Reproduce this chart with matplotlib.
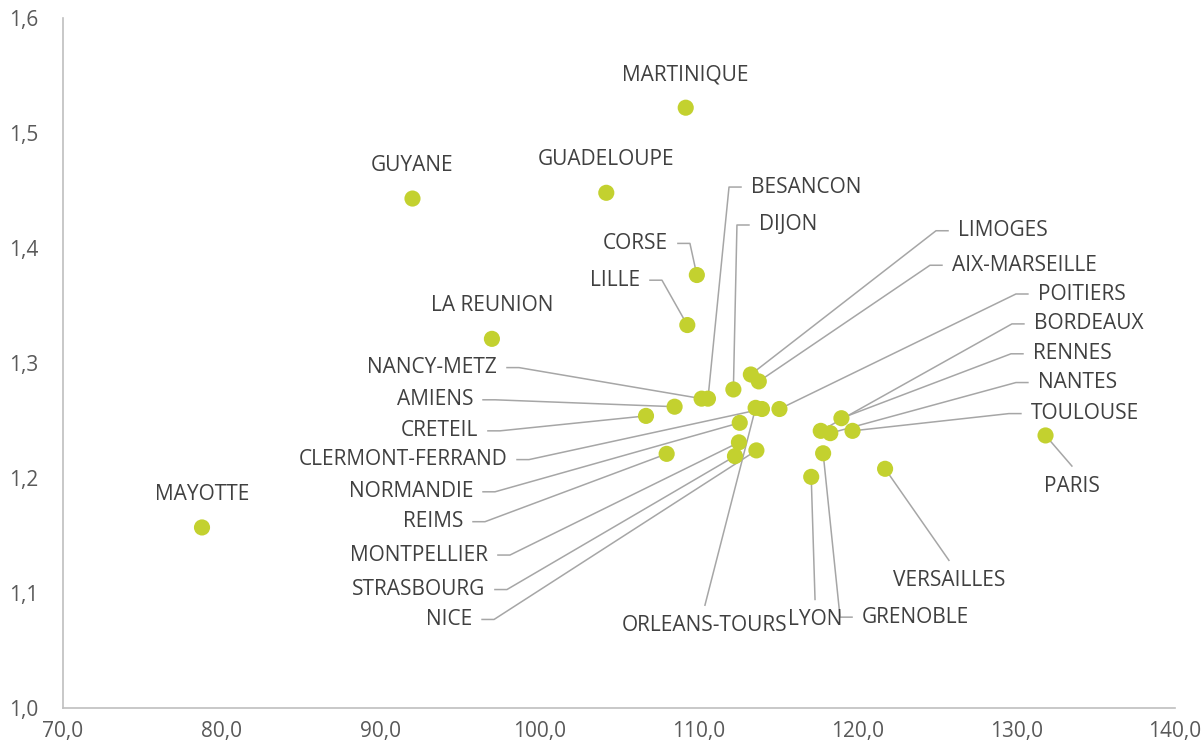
import numpy as np
import matplotlib
matplotlib.use("Agg")
import matplotlib.pyplot as plt
from matplotlib.ticker import FuncFormatter, MultipleLocator

plt.rcParams['font.family'] = ['Open Sans', 'DejaVu Sans']

# academies : indice x / indice y
villes = ['MAYOTTE', 'GUYANE', 'LA REUNION', 'GUADELOUPE', 'MARTINIQUE',
          'CORSE', 'LILLE', 'NANCY-METZ', 'BESANCON', 'AMIENS', 'CRETEIL',
          'DIJON', 'LIMOGES', 'AIX-MARSEILLE', 'ORLEANS-TOURS',
          'CLERMONT-FERRAND', 'POITIERS', 'NORMANDIE', 'REIMS', 'MONTPELLIER',
          'STRASBOURG', 'NICE', 'BORDEAUX', 'NANTES', 'RENNES', 'TOULOUSE',
          'PARIS', 'GRENOBLE', 'LYON', 'VERSAILLES']
x_vals = [78.75, 92.0, 97.0, 104.2, 109.2,
          109.9, 109.3, 110.2, 110.6, 108.5, 106.7,
          112.2, 113.3, 113.8, 113.6,
          114.0, 115.1, 112.6, 108.0, 112.55,
          112.3, 113.65, 117.7, 118.3, 119.0, 119.7,
          131.85, 117.85, 117.1, 121.75]
y_vals = [1.157, 1.443, 1.321, 1.448, 1.522,
          1.3765, 1.333, 1.269, 1.269, 1.262, 1.254,
          1.277, 1.290, 1.284, 1.261,
          1.260, 1.260, 1.248, 1.221, 1.231,
          1.219, 1.224, 1.241, 1.239, 1.252, 1.241,
          1.237, 1.2215, 1.201, 1.208]

# placement des etiquettes : (cote, x, y) ; 'above' = juste au-dessus du point
etiquettes = [('above', None, None), ('above', None, None), ('above', None, None),
              ('above', None, None), ('above', None, None),
              ('left', 108.08, 1.404), ('left', 106.32, 1.372),
              ('left', 97.32, 1.296), ('right', 113.31, 1.453),
              ('left', 95.81, 1.268), ('left', 96.12, 1.241),
              ('right', 113.81, 1.420), ('right', 126.34, 1.415),
              ('right', 125.96, 1.385), ('below', 110.41, 1.072),
              ('left', 97.95, 1.216), ('right', 131.37, 1.360),
              ('left', 95.81, 1.188), ('left', 95.18, 1.162),
              ('left', 96.75, 1.133), ('left', 96.56, 1.103),
              ('left', 95.75, 1.077), ('right', 131.12, 1.334),
              ('right', 131.37, 1.283), ('right', 131.06, 1.308),
              ('right', 130.93, 1.256), ('below', 133.51, 1.193),
              ('right', 120.30, 1.079), ('below', 117.34, 1.077),
              ('below', 125.77, 1.111)]

fig = plt.figure(figsize=(12.04, 7.49), dpi=100)
ax = fig.add_axes([63 / 1204, 41 / 749, 1112 / 1204, 690 / 749])
ax.set_xlim(70, 140)
ax.set_ylim(1.0, 1.6)

# taille d'un pixel en unites de donnees
px_x = 70 / 1112.0
px_y = 0.6 / 690.0

col_ligne = '#a6a6a6'
col_texte = '#404040'
fs = 15

for v, x, y, (cote, lx, ly) in zip(villes, x_vals, y_vals, etiquettes):
    if cote == 'above':
        ax.annotate(v, (x, y), xytext=(0, 33), textcoords='offset pixels',
                    ha='center', va='center', fontsize=fs, color=col_texte)
        continue
    if cote == 'left':
        ax.text(lx, ly, v, ha='right', va='center', fontsize=fs, color=col_texte)
        sx, ex = lx + 10 * px_x, lx + 22 * px_x
        ax.plot([sx, ex, x], [ly, ly, y], color=col_ligne, lw=1.1, zorder=1)
    elif cote == 'right':
        ax.text(lx, ly, v, ha='left', va='center', fontsize=fs, color=col_texte)
        sx, ex = lx - 10 * px_x, lx - 22 * px_x
        ax.plot([sx, ex, x], [ly, ly, y], color=col_ligne, lw=1.1, zorder=1)
    else:
        ax.text(lx, ly, v, ha='center', va='center', fontsize=fs, color=col_texte)
        ax.plot([lx, x], [ly + 20 * px_y, y], color=col_ligne, lw=1.1, zorder=1)

ax.scatter(x_vals, y_vals, s=135, color='#c3d12f', edgecolor='none', zorder=3)

for s in ['top', 'right']:
    ax.spines[s].set_visible(False)
for s in ['left', 'bottom']:
    ax.spines[s].set_color('#bfbfbf')
    ax.spines[s].set_linewidth(1.2)

ax.xaxis.set_major_locator(MultipleLocator(10))
ax.yaxis.set_major_locator(MultipleLocator(0.1))
ax.xaxis.set_major_formatter(FuncFormatter(lambda v, p: f"{v:.1f}".replace('.', ',')))
ax.yaxis.set_major_formatter(FuncFormatter(lambda v, p: f"{v:.1f}".replace('.', ',')))
ax.tick_params(length=0, labelsize=15, labelcolor='#595959')
ax.tick_params(axis='y', pad=18)
ax.tick_params(axis='x', pad=9)

fig.savefig('out.png', dpi=100)
